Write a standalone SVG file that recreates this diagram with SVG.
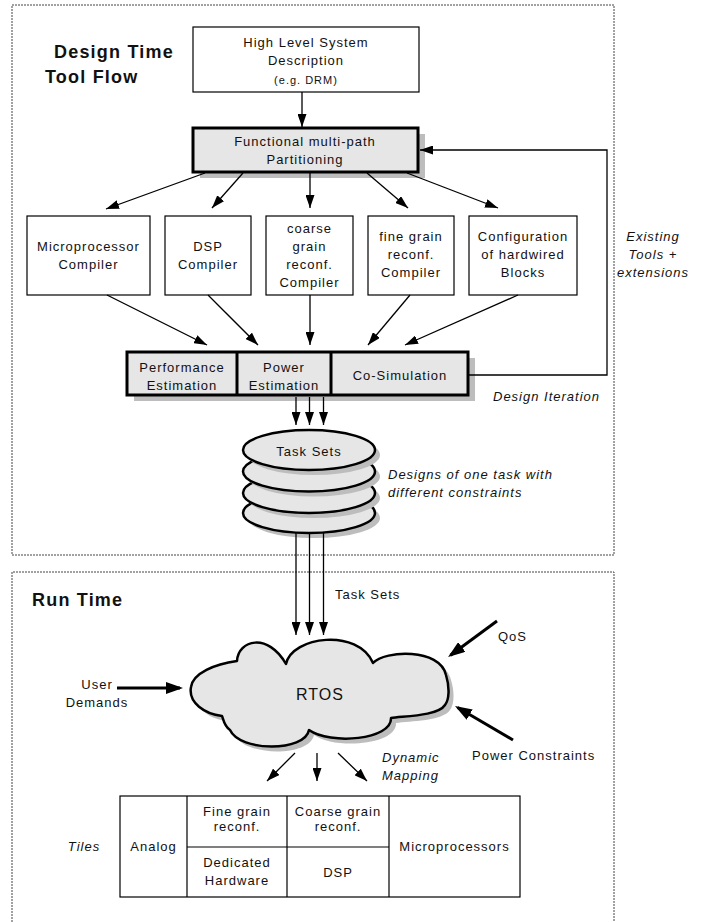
<svg xmlns="http://www.w3.org/2000/svg" width="706" height="922" viewBox="0 0 706 922">
<style>
.t{font-family:"Liberation Sans",Arial,sans-serif;font-size:13px;letter-spacing:1px;fill:#111;text-anchor:middle}
.i{font-style:italic}
.s{text-anchor:start}
.title{font-family:"Liberation Sans",Arial,sans-serif;font-weight:bold;font-size:18px;letter-spacing:1.2px;fill:#111}
.box{fill:#fff;stroke:#000;stroke-width:1.2}
.tb{fill:#e6e6e6;stroke:#000;stroke-width:3}
.sh{fill:#bdbdbd}
.ln{stroke:#000;stroke-width:1.3;fill:none;marker-end:url(#ah)}
.lb{stroke:#000;stroke-width:3;fill:none;marker-end:url(#ahb)}
.pl{stroke:#000;stroke-width:1.3;fill:none}
.dash{fill:none;stroke:#444;stroke-width:1;stroke-dasharray:2 1}
.el{fill:#e6e6e6;stroke:#000;stroke-width:2.5}
</style>
<defs>
<marker id="ah" viewBox="0 0 13 9" refX="13" refY="4.5" markerWidth="13" markerHeight="9" markerUnits="userSpaceOnUse" orient="auto"><path d="M0,0 L13,4.5 L0,9 z" fill="#000"/></marker>
<marker id="ahb" viewBox="0 0 17 12" refX="14" refY="6" markerWidth="17" markerHeight="12" markerUnits="userSpaceOnUse" orient="auto"><path d="M0,0 L17,6 L0,12 z" fill="#000"/></marker>
</defs>

<g id="frames">
<rect class="dash" x="12" y="5" width="602" height="550"/>
<path class="dash" d="M12,922 V572 H614 V922"/>
<text class="title" x="54" y="58">Design Time</text>
<text class="title" x="45" y="83">Tool Flow</text>
<text class="title" x="32" y="606">Run Time</text>
</g>

<g id="n-highlevel">
<rect class="box" x="193" y="27" width="226" height="65"/>
<text class="t" x="306" y="47">High Level System</text>
<text class="t" x="306" y="65">Description</text>
<text class="t" x="306" y="84" style="font-size:11px">(e.g. DRM)</text>
</g>

<g id="n-partition">
<rect class="sh" x="200" y="134" width="225" height="44"/>
<rect class="tb" x="193" y="128" width="225" height="44"/>
<text class="t" x="305" y="146">Functional multi-path</text>
<text class="t" x="305" y="164">Partitioning</text>
</g>

<g id="n-micro">
<rect class="box" x="27" y="216" width="123" height="79"/>
<text class="t" x="88.5" y="251">Microprocessor</text>
<text class="t" x="88.5" y="269">Compiler</text>
</g>
<g id="n-dsp">
<rect class="box" x="165" y="216" width="86" height="79"/>
<text class="t" x="208" y="251">DSP</text>
<text class="t" x="208" y="269">Compiler</text>
</g>
<g id="n-coarse">
<rect class="box" x="266" y="216" width="87" height="79"/>
<text class="t" x="309.5" y="233">coarse</text>
<text class="t" x="309.5" y="251">grain</text>
<text class="t" x="309.5" y="269">reconf.</text>
<text class="t" x="309.5" y="287">Compiler</text>
</g>
<g id="n-fine">
<rect class="box" x="368" y="216" width="86" height="79"/>
<text class="t" x="411" y="241">fine grain</text>
<text class="t" x="411" y="259">reconf.</text>
<text class="t" x="411" y="277">Compiler</text>
</g>
<g id="n-config">
<rect class="box" x="469" y="216" width="108" height="79"/>
<text class="t" x="523" y="241">Configuration</text>
<text class="t" x="523" y="259">of hardwired</text>
<text class="t" x="523" y="277">Blocks</text>
</g>

<g id="n-estimation">
<rect class="sh" x="134" y="358" width="341" height="43"/>
<rect class="tb" x="127" y="352" width="341" height="43"/>
<line x1="237" y1="352" x2="237" y2="395" stroke="#000" stroke-width="3"/>
<line x1="331" y1="352" x2="331" y2="395" stroke="#000" stroke-width="3"/>
<text class="t" x="182" y="371.5">Performance</text>
<text class="t" x="182" y="390">Estimation</text>
<text class="t" x="284" y="371.5">Power</text>
<text class="t" x="284" y="390">Estimation</text>
<text class="t" x="400" y="380">Co-Simulation</text>
</g>

<g id="n-tasksets">
<ellipse class="sh" cx="314" cy="518" rx="66" ry="20"/>
<ellipse class="el" cx="309" cy="513" rx="66" ry="20"/>
<ellipse class="sh" cx="314" cy="498" rx="66" ry="20"/>
<ellipse class="el" cx="309" cy="493" rx="66" ry="20"/>
<ellipse class="sh" cx="314" cy="476.5" rx="66" ry="20"/>
<ellipse class="el" cx="309" cy="471.5" rx="66" ry="20"/>
<ellipse class="sh" cx="314" cy="455" rx="66" ry="20"/>
<ellipse class="el" cx="309" cy="450" rx="66" ry="20"/>
<text class="t" x="309" y="456">Task Sets</text>
</g>

<g id="n-rtos">
<path class="sh" transform="translate(5,5)" d="M191,687 C193,673 215,664 237,661 C238,640 268,632 286,664 C292,636 358,628 373,663 C385,650 440,648 446,675 C450,688 449,700 445,705 C438,716 405,716 391,718 C392,740 330,745 309,730 C305,752 240,752 230,730 C224,726 223,718 222,716 C205,714 188,703 191,687 Z"/>
<path d="M191,687 C193,673 215,664 237,661 C238,640 268,632 286,664 C292,636 358,628 373,663 C385,650 440,648 446,675 C450,688 449,700 445,705 C438,716 405,716 391,718 C392,740 330,745 309,730 C305,752 240,752 230,730 C224,726 223,718 222,716 C205,714 188,703 191,687 Z" fill="#e6e6e6" stroke="#000" stroke-width="2.5" stroke-linejoin="round"/>
<text class="t" x="320" y="700" style="font-size:16px">RTOS</text>
</g>

<g id="n-tiles">
<rect x="120" y="796" width="400" height="101" fill="#fff" stroke="#000" stroke-width="1.2"/>
<path d="M187,796 V897 M287,796 V897 M389,796 V897 M187,847 H389" stroke="#000" stroke-width="1.2" fill="none"/>
<text class="t" x="153.5" y="851">Analog</text>
<text class="t" x="237" y="816">Fine grain</text>
<text class="t" x="237" y="831">reconf.</text>
<text class="t" x="338" y="816">Coarse grain</text>
<text class="t" x="338" y="831">reconf.</text>
<text class="t" x="237" y="867">Dedicated</text>
<text class="t" x="237" y="885">Hardware</text>
<text class="t" x="338" y="877">DSP</text>
<text class="t" x="454.5" y="851">Microprocessors</text>
</g>

<g id="connectors">
<line class="ln" x1="302" y1="92" x2="302" y2="127"/>
<line class="ln" x1="205" y1="173" x2="106" y2="209"/>
<line class="ln" x1="243" y1="173" x2="212" y2="208"/>
<line class="ln" x1="310" y1="173" x2="310" y2="208"/>
<line class="ln" x1="367" y1="173" x2="408" y2="208"/>
<line class="ln" x1="407" y1="173" x2="498" y2="208"/>
<line class="ln" x1="107" y1="295" x2="207" y2="345"/>
<line class="ln" x1="208" y1="295" x2="258" y2="345"/>
<line class="ln" x1="310" y1="295" x2="310" y2="345"/>
<line class="ln" x1="410" y1="295" x2="368" y2="345"/>
<line class="ln" x1="518" y1="295" x2="405" y2="345"/>
<polyline class="ln" points="468,375 607,375 607,150 420,150"/>
<line class="ln" x1="296" y1="397" x2="296" y2="425"/>
<line class="ln" x1="309.5" y1="397" x2="309.5" y2="425"/>
<line class="ln" x1="323.5" y1="397" x2="323.5" y2="425"/>
<line class="ln" x1="296" y1="533" x2="296" y2="635"/>
<line class="ln" x1="309.5" y1="533" x2="309.5" y2="635"/>
<line class="ln" x1="323.5" y1="533" x2="323.5" y2="635"/>
<line class="lb" x1="117" y1="688" x2="180" y2="688"/>
<line class="lb" x1="497" y1="621" x2="450.5" y2="655.3"/>
<line class="lb" x1="513" y1="740" x2="457.6" y2="707.5"/>
<line class="ln" x1="295" y1="753" x2="267" y2="781"/>
<line class="ln" x1="317" y1="753" x2="317" y2="781"/>
<line class="ln" x1="338" y1="753" x2="367" y2="781"/>
</g>

<g id="labels">
<text class="t i" x="653" y="241">Existing</text>
<text class="t i" x="653" y="259">Tools +</text>
<text class="t i" x="653" y="277">extensions</text>
<text class="t i s" x="493" y="401">Design Iteration</text>
<text class="t i s" x="388" y="479">Designs of one task with</text>
<text class="t i s" x="388" y="497">different constraints</text>
<text class="t s" x="335" y="599">Task Sets</text>
<text class="t s" x="498" y="641">QoS</text>
<text class="t" x="97" y="689">User</text>
<text class="t" x="97" y="707">Demands</text>
<text class="t s" x="472" y="760">Power Constraints</text>
<text class="t i s" x="382" y="762">Dynamic</text>
<text class="t i s" x="382" y="780">Mapping</text>
<text class="t i" x="84" y="851">Tiles</text>
</g>
</svg>
